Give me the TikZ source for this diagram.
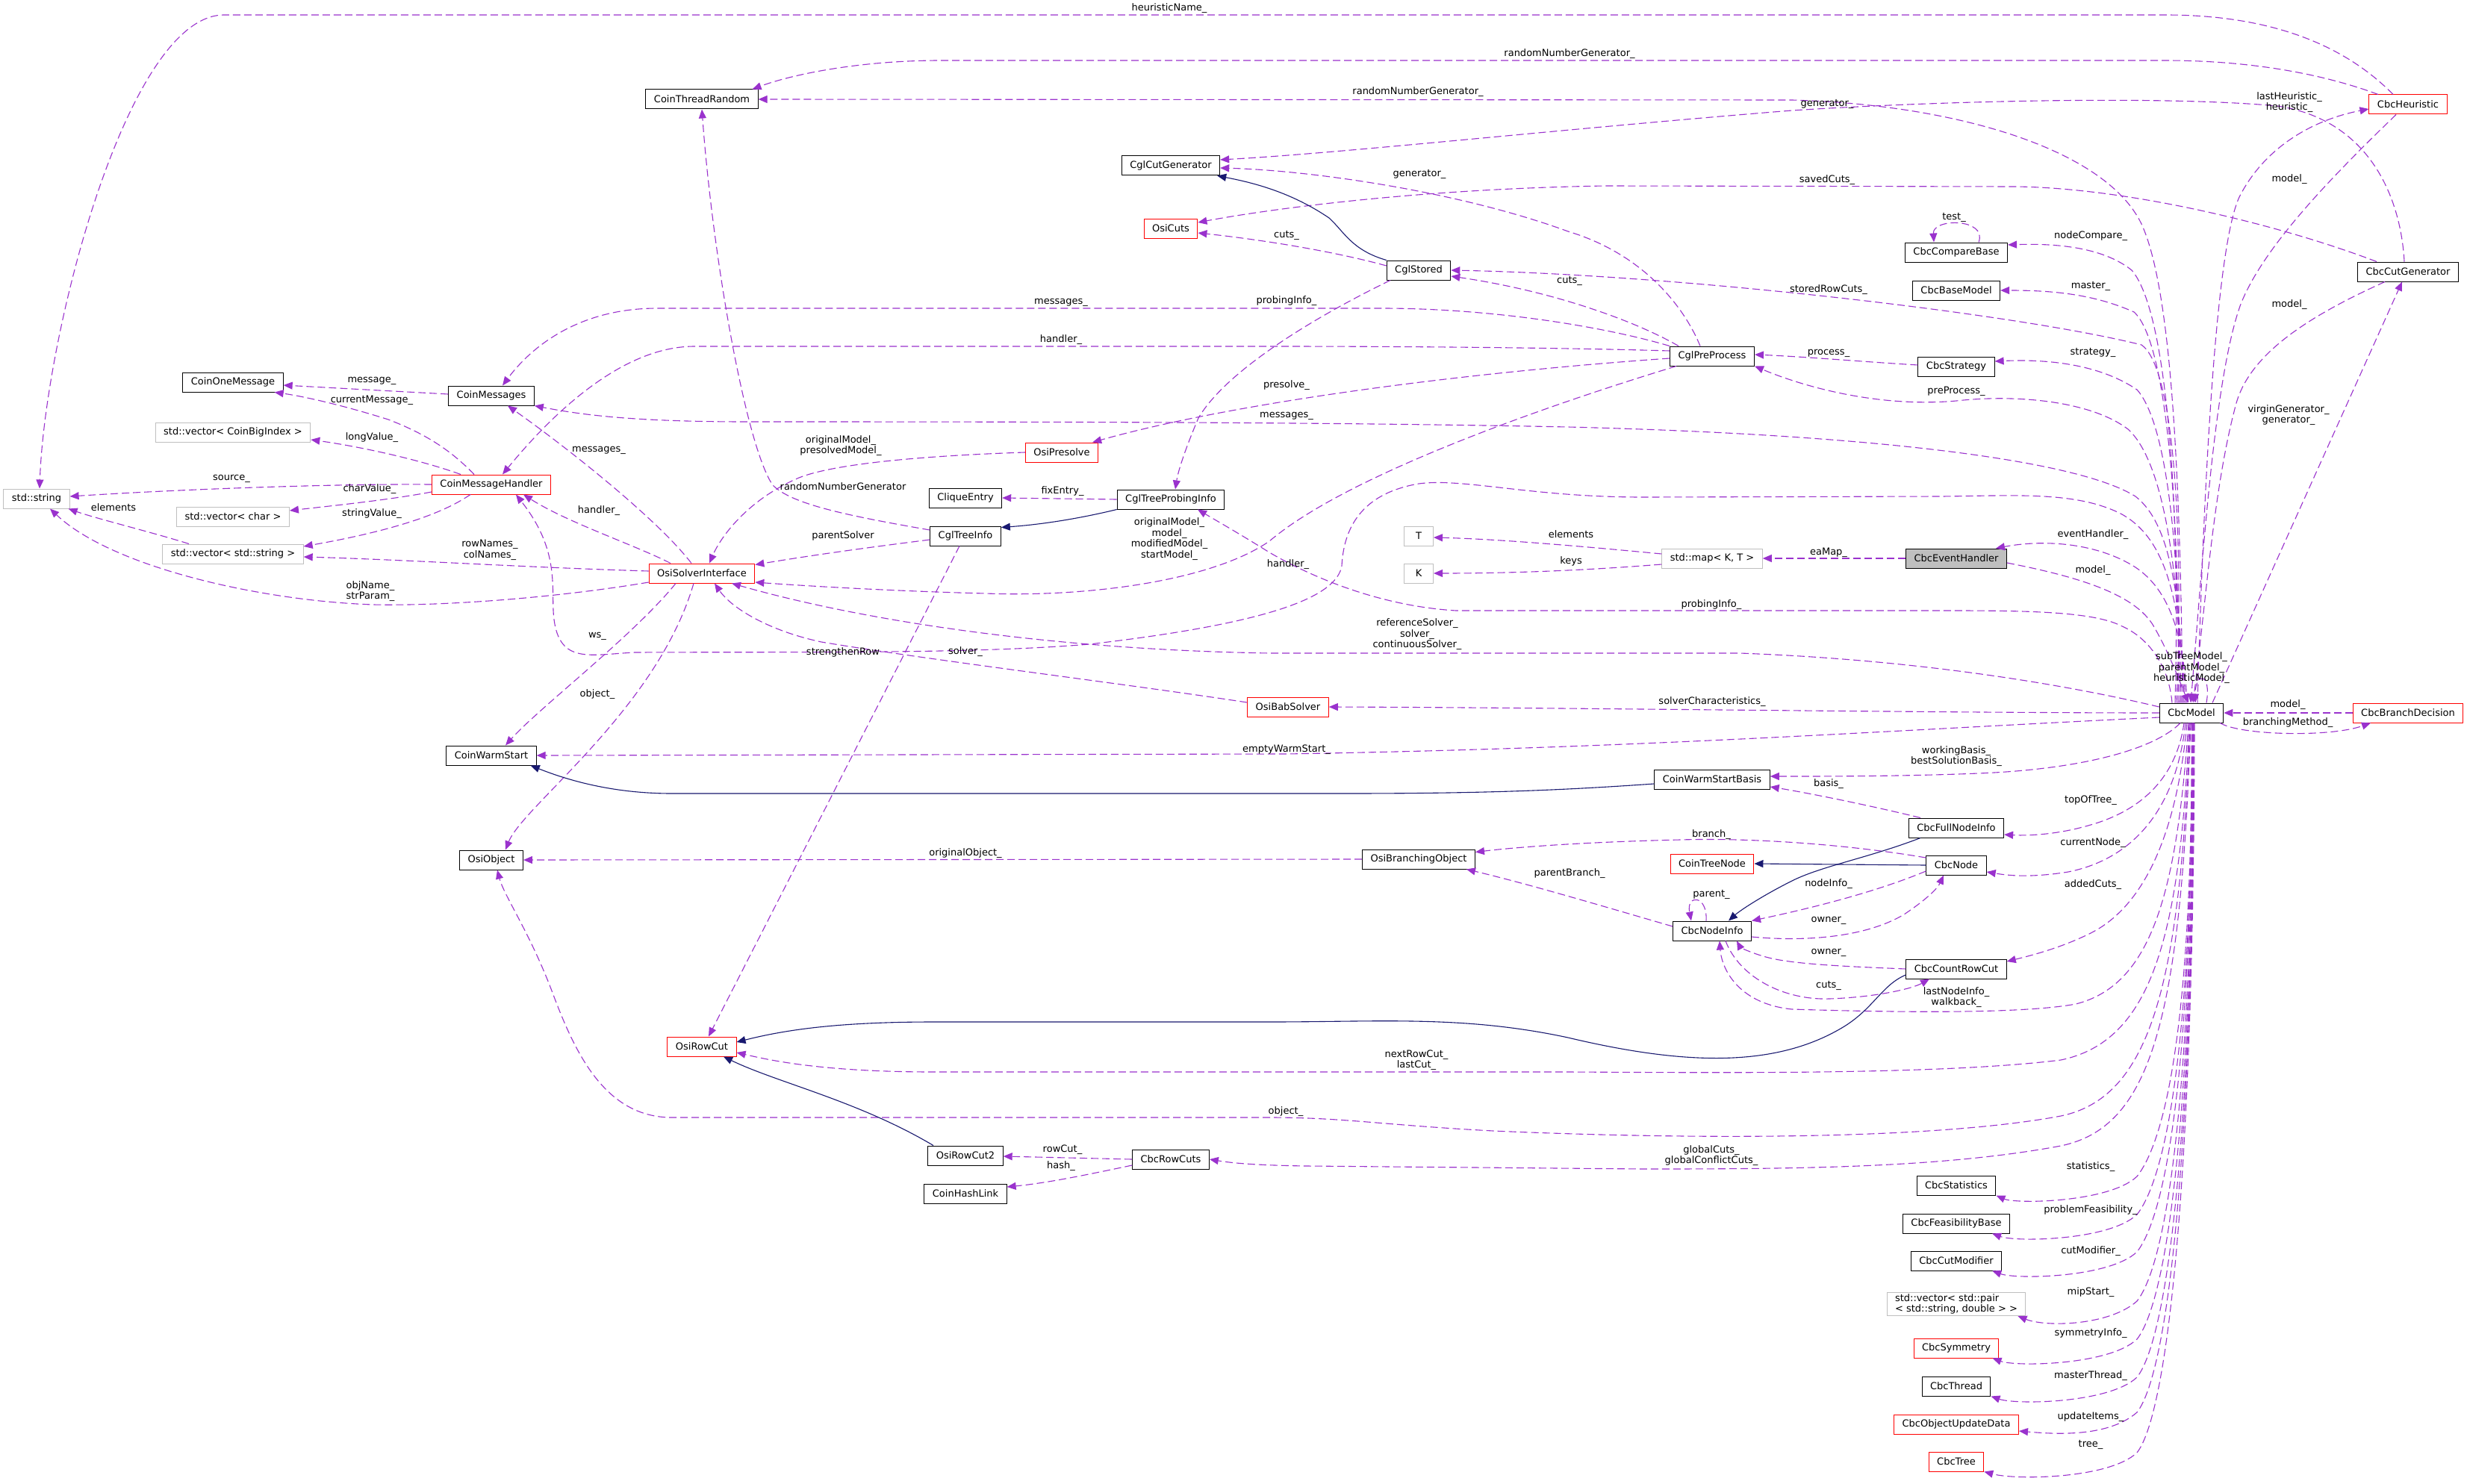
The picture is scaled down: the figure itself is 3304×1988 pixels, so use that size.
\documentclass[tikz,border=0pt]{standalone}
\usepackage{fontspec}
\setmainfont{DejaVu Sans}
\usetikzlibrary{arrows.meta}
\definecolor{edgec}{HTML}{9A32CD}
\definecolor{inhc}{HTML}{191970}
\definecolor{grayb}{HTML}{BFBFBF}
\definecolor{redb}{HTML}{FF0000}
\newcommand{\lblfont}{\fontsize{13}{14.5}\selectfont}
\begin{document}
\begin{tikzpicture}[x=1pt,y=-1pt,
 cbox/.style={draw=black,line width=1pt,fill=white,minimum height=26pt,minimum width=39pt,inner xsep=11pt,inner ysep=2pt,font=\lblfont,align=center},
 crbox/.style={cbox,draw=redb},
 cgbox/.style={cbox,draw=grayb},
 chbox/.style={cbox,fill=grayb},
 useedge/.style={draw=edgec,line width=1.1pt,dash pattern=on 10pt off 5pt,-{Triangle[length=12pt,width=10pt]}},
 inhedge/.style={draw=inhc,line width=1.1pt,-{Triangle[length=12pt,width=10pt]}},
 elab/.style={font=\lblfont,align=center,inner sep=0pt,text=black}]
\fill[white] (0,0) rectangle (3304,1988);
\path[use as bounding box] (0,0) rectangle (3304,1988);

% ---------------- nodes ----------------
\node[cgbox] (stdstring) at (49,668) {std::string};
\node[cgbox] (vecBig) at (312,579) {std::vector< CoinBigIndex >};
\node[cgbox] (vecChar) at (312,692) {std::vector< char >};
\node[cgbox] (vecStr) at (312,742) {std::vector< std::string >};
\node[cbox] (CoinOneMessage) at (312,512) {CoinOneMessage};
\node[cbox] (CoinMessages) at (658,530) {CoinMessages};
\node[crbox] (CoinMessageHandler) at (658,649) {CoinMessageHandler};
\node[cbox] (CoinWarmStart) at (658,1012) {CoinWarmStart};
\node[cbox] (OsiObject) at (658,1152) {OsiObject};
\node[cbox] (CoinThreadRandom) at (940,133) {CoinThreadRandom};
\node[crbox] (OsiSolverInterface) at (940,768) {OsiSolverInterface};
\node[crbox] (OsiRowCut) at (940,1402) {OsiRowCut};
\node[cbox] (CliqueEntry) at (1293,667) {CliqueEntry};
\node[cbox] (CglTreeInfo) at (1293,718) {CglTreeInfo};
\node[cbox] (OsiRowCut2) at (1293,1548) {OsiRowCut2};
\node[cbox] (CoinHashLink) at (1293,1599) {CoinHashLink};
\node[cbox] (CglCutGenerator) at (1568,222) {CglCutGenerator};
\node[crbox] (OsiCuts) at (1568,306) {OsiCuts};
\node[crbox] (OsiPresolve) at (1422,606) {OsiPresolve};
\node[cbox] (CglTreeProbingInfo) at (1568,669) {CglTreeProbingInfo};
\node[cbox] (CbcRowCuts) at (1568,1553) {CbcRowCuts};
\node[cbox] (CglStored) at (1900,362) {CglStored};
\node[cgbox] (T) at (1900,718) {T};
\node[cgbox] (K) at (1900,768) {K};
\node[crbox] (OsiBabSolver) at (1725,947) {OsiBabSolver};
\node[cbox] (OsiBranchingObject) at (1900,1151) {OsiBranchingObject};
\node[cbox] (CglPreProcess) at (2293,477) {CglPreProcess};
\node[cgbox] (stdmap) at (2293,748) {std::map< K, T >};
\node[cbox] (CoinWarmStartBasis) at (2293,1044) {CoinWarmStartBasis};
\node[crbox] (CoinTreeNode) at (2293,1157) {CoinTreeNode};
\node[cbox] (CbcNodeInfo) at (2293,1247) {CbcNodeInfo};
\node[cbox] (CbcCompareBase) at (2620,338) {CbcCompareBase};
\node[cbox] (CbcBaseModel) at (2620,389) {CbcBaseModel};
\node[cbox] (CbcStrategy) at (2620,491) {CbcStrategy};
\node[chbox] (CbcEventHandler) at (2620,748) {CbcEventHandler};
\node[cbox] (CbcFullNodeInfo) at (2620,1109) {CbcFullNodeInfo};
\node[cbox] (CbcNode) at (2620,1159) {CbcNode};
\node[cbox] (CbcCountRowCut) at (2620,1298) {CbcCountRowCut};
\node[cbox] (CbcStatistics) at (2620,1588) {CbcStatistics};
\node[cbox] (CbcFeasibilityBase) at (2620,1639) {CbcFeasibilityBase};
\node[cbox] (CbcCutModifier) at (2620,1689) {CbcCutModifier};
\node[cgbox,align=left] (vecPair) at (2620,1747) {std::vector< std::pair\\< std::string, double > >};
\node[crbox] (CbcSymmetry) at (2620,1806) {CbcSymmetry};
\node[cbox] (CbcThread) at (2620,1857) {CbcThread};
\node[crbox] (CbcObjectUpdateData) at (2620,1908) {CbcObjectUpdateData};
\node[crbox] (CbcTree) at (2620,1958) {CbcTree};
\node[cbox] (CbcModel) at (2935,955) {CbcModel};
\node[crbox] (CbcHeuristic) at (3225,140) {CbcHeuristic};
\node[cbox] (CbcCutGenerator) at (3225,364) {CbcCutGenerator};
\node[crbox] (CbcBranchDecision) at (3225,955) {CbcBranchDecision};

% ---------------- edges ----------------
\draw[useedge] ([xshift=-20pt]CbcHeuristic.north) .. controls (3120,40) and (3000,20) .. (2900,20) -- (300,20) .. controls (170,20) and (60,450) .. ([xshift=4pt]stdstring.north);
\draw[useedge] ([xshift=-40pt]CbcHeuristic.north) .. controls (3100,95) and (3000,81) .. (2900,81) -- (1260,81) .. controls (1150,81) and (1060,100) .. ([xshift=-8pt]CoinThreadRandom.north east);
\draw[useedge] ([xshift=-12pt]CbcModel.north) .. controls (2920,600) and (2905,380) .. (2868,300) .. controls (2820,200) and (2620,140) .. (2400,134) -- (CoinThreadRandom.east);
\draw[useedge] ([yshift=8pt]CglTreeInfo.west) .. controls (1130,690) and (1060,675) .. (1035,650) .. controls (1000,600) and (955,350) .. (CoinThreadRandom.south);
\draw[useedge] ([xshift=-5pt]CbcCutGenerator.north) .. controls (3215,260) and (3170,160) .. (3050,142) .. controls (2900,128) and (2600,135) .. (2400,148) .. controls (2100,172) and (1800,205) .. ([yshift=8pt]CglCutGenerator.east);
\draw[useedge] ([xshift=-16pt]CglPreProcess.north) .. controls (2255,410) and (2200,340) .. (2100,310) .. controls (1950,255) and (1750,228) .. ([yshift=-3pt]CglCutGenerator.east);
\draw[useedge] ([xshift=-42pt]CbcCutGenerator.north) .. controls (3050,300) and (2850,252) .. (2700,250) -- (2150,249) .. controls (1900,253) and (1700,280) .. ([yshift=8pt]OsiCuts.east);
\draw[useedge] ([yshift=6pt]CglStored.west) .. controls (1780,335) and (1680,320) .. ([yshift=-6pt]OsiCuts.east);
\draw[inhedge] (CglStored.north west) .. controls (1810,335) and (1800,310) .. (1780,292) .. controls (1730,258) and (1680,245) .. ([xshift=-4pt]CglCutGenerator.south east);
\draw[useedge] ([xshift=-45pt]CglPreProcess.north) .. controls (2190,430) and (2080,390) .. ([yshift=-8pt]CglStored.east);
\draw[useedge] ([xshift=-20pt]CbcModel.north) .. controls (2925,700) and (2910,490) .. (2868,462) .. controls (2700,420) and (2250,368) .. (CglStored.east);
\draw[useedge] ([xshift=-22pt]CbcModel.north) .. controls (2920,700) and (2905,420) .. (2855,362) .. controls (2815,330) and (2750,326) .. ([yshift=10pt]CbcCompareBase.east);
\draw[useedge] ([xshift=30pt]CbcCompareBase.north) .. controls (2662,292) and (2588,292) .. ([xshift=-30pt]CbcCompareBase.north);
\draw[useedge] ([xshift=-18pt]CbcModel.north) .. controls (2920,720) and (2905,460) .. (2858,418) .. controls (2800,392) and (2740,389) .. (CbcBaseModel.east);
\draw[useedge] ([xshift=-16pt]CbcModel.north) .. controls (2920,760) and (2905,570) .. (2862,522) .. controls (2810,487) and (2740,481) .. ([yshift=7pt]CbcStrategy.east);
\draw[useedge] ([xshift=-14pt]CbcModel.north) .. controls (2920,780) and (2900,620) .. (2850,575) .. controls (2800,537) and (2700,528) .. (2620,537) .. controls (2520,546) and (2420,520) .. (CglPreProcess.south east);
\draw[useedge] ([yshift=2pt]CbcStrategy.west) .. controls (2500,485) and (2420,478) .. ([yshift=2pt]CglPreProcess.east);
\draw[useedge] (CglPreProcess.north west) .. controls (2150,438) and (2000,413) .. (1850,413) -- (880,413) .. controls (780,413) and (715,460) .. ([xshift=15pt]CoinMessages.north);
\draw[useedge] ([yshift=7pt]CglPreProcess.west) .. controls (2100,466) and (1900,464) .. (1700,464) -- (930,464) .. controls (830,464) and (735,560) .. ([xshift=15pt]CoinMessageHandler.north);
\draw[useedge] ([yshift=-3pt]CglPreProcess.west) .. controls (1950,500) and (1650,540) .. ([xshift=-8pt]OsiPresolve.north east);
\draw[useedge] ([xshift=-48pt]CglPreProcess.south) .. controls (2050,550) and (1800,640) .. (1700,725) .. controls (1620,780) and (1450,800) .. (1320,795) .. controls (1200,792) and (1080,785) .. ([yshift=-12pt]OsiSolverInterface.east);
\draw[useedge] ([xshift=-38pt]CglStored.south) .. controls (1750,430) and (1640,500) .. (1605,560) .. controls (1588,600) and (1578,630) .. ([xshift=6pt]CglTreeProbingInfo.north);
\draw[useedge] ([xshift=-26pt]CbcModel.north) .. controls (2905,895) and (2880,855) .. (2840,838) .. controls (2800,818) and (2700,818) .. (2600,818) -- (1950,818) .. controls (1850,812) and (1760,775) .. (1700,740) .. controls (1660,715) and (1630,698) .. ([xshift=36pt]CglTreeProbingInfo.south);
\draw[useedge] ([yshift=8pt]CbcModel.west) .. controls (2800,925) and (2600,885) .. (2330,875) -- (1700,875) .. controls (1400,870) and (1150,830) .. ([xshift=40pt]OsiSolverInterface.south);
\draw[useedge] ([xshift=-8pt]CbcModel.north) .. controls (2920,800) and (2900,720) .. (2840,688) .. controls (2780,658) and (2700,664) .. (2600,665) -- (2200,666) .. controls (2050,666) and (1960,640) .. (1900,648) .. controls (1830,660) and (1800,700) .. (1797,758) .. controls (1790,800) and (1700,835) .. (1459,863) .. controls (1300,876) and (1100,873) .. (850,874) .. controls (790,877) and (750,890) .. (742,830) .. controls (737,790) and (752,740) .. ([xshift=33pt]CoinMessageHandler.south);
\draw[useedge] ([xshift=-10pt]CbcModel.north) .. controls (2920,790) and (2905,700) .. (2860,665) .. controls (2780,615) and (2500,582) .. (2100,572) .. controls (1800,566) and (1500,565) .. (1000,565) .. controls (850,565) and (780,556) .. (CoinMessages.south east);
\draw[useedge] ([yshift=2pt]CoinMessages.west) -- ([yshift=-4pt]CoinOneMessage.east);
\draw[useedge] ([xshift=-23pt]CoinMessageHandler.north) .. controls (610,610) and (580,585) .. (520,562) .. controls (450,540) and (400,530) .. ([xshift=-12pt]CoinOneMessage.south east);
\draw[useedge] ([xshift=-41pt]CoinMessageHandler.north) .. controls (560,615) and (480,598) .. ([yshift=-10pt]vecBig.east);
\draw[useedge] (CoinMessageHandler.west) .. controls (450,648) and (250,655) .. ([yshift=3pt]stdstring.east);
\draw[useedge] ([yshift=-10pt]CoinMessageHandler.west) .. controls (520,670) and (440,678) .. ([yshift=8pt]vecChar.east);
\draw[useedge] ([xshift=-28pt]CoinMessageHandler.south) .. controls (590,690) and (520,712) .. ([yshift=10pt]vecStr.east);
\draw[useedge] ([xshift=-59pt]vecStr.north) .. controls (200,712) and (130,695) .. ([xshift=-2pt]stdstring.south east);
\draw[useedge] ([xshift=-14pt]OsiSolverInterface.north) .. controls (880,695) and (760,600) .. ([xshift=22pt]CoinMessages.south);
\draw[useedge] ([xshift=-42pt]OsiSolverInterface.north) .. controls (850,730) and (760,700) .. ([xshift=43pt]CoinMessageHandler.south);
\draw[useedge] ([yshift=3pt]OsiSolverInterface.west) .. controls (700,760) and (550,750) .. ([yshift=-4pt]vecStr.east);
\draw[useedge] ([yshift=-12pt]OsiSolverInterface.west) .. controls (750,800) and (600,812) .. (500,810) .. controls (350,805) and (150,760) .. ([xshift=18pt]stdstring.south);
\draw[useedge] ([xshift=-35pt]OsiSolverInterface.south) .. controls (850,850) and (720,950) .. ([xshift=19pt]CoinWarmStart.north);
\draw[useedge] ([xshift=-11pt]OsiSolverInterface.south) .. controls (880,950) and (700,1080) .. ([xshift=19pt]OsiObject.north);
\draw[useedge] (OsiPresolve.west) .. controls (1250,610) and (1120,620) .. (1070,640) .. controls (1000,670) and (965,720) .. ([xshift=10pt]OsiSolverInterface.north);
\draw[useedge] ([yshift=-5pt]CglTreeInfo.west) .. controls (1150,735) and (1080,745) .. ([yshift=-2pt]OsiSolverInterface.north east);
\draw[useedge] (CglTreeProbingInfo.west) -- (CliqueEntry.east);
\draw[inhedge] (CglTreeProbingInfo.south west) .. controls (1440,696) and (1390,703) .. ([yshift=-2pt]CglTreeInfo.north east);
\draw[useedge] ([xshift=-8pt]CglTreeInfo.south) -- ([xshift=9pt]OsiRowCut.north);
\draw[useedge] ([yshift=6pt]OsiBabSolver.west) .. controls (1500,915) and (1250,885) .. (1100,860) .. controls (1030,845) and (980,815) .. ([xshift=17pt]OsiSolverInterface.south);
\draw[useedge] (CbcModel.west) .. controls (2600,955) and (2100,948) .. (OsiBabSolver.east);
\draw[useedge] ([yshift=-6pt]CbcModel.west) .. controls (2500,980) and (2200,1002) .. (1723,1010) -- (CoinWarmStart.east);
\draw[inhedge] ([yshift=-6pt]CoinWarmStartBasis.west) .. controls (2100,1058) and (2000,1063) .. (1800,1063) -- (900,1063) .. controls (820,1063) and (760,1045) .. ([xshift=-8pt]CoinWarmStart.south east);
\draw[useedge] (OsiBranchingObject.west) -- (OsiObject.east);
\draw[useedge] ([yshift=6pt]CbcNodeInfo.west) .. controls (2150,1215) and (2050,1185) .. ([xshift=-12pt]OsiBranchingObject.south east);
\draw[useedge] ([yshift=10pt]CbcNode.west) .. controls (2480,1132) and (2350,1122) .. (2250,1125) .. controls (2120,1128) and (2030,1135) .. ([yshift=-4pt]OsiBranchingObject.north east);
\draw[useedge] ([yshift=6pt]stdmap.west) .. controls (2100,730) and (2000,722) .. ([yshift=-2pt]T.east);
\draw[useedge] ([yshift=-8pt]stdmap.west) .. controls (2100,766) and (2000,768) .. (K.east);
\draw[useedge] (CbcEventHandler.west) -- (stdmap.east);
\draw[useedge] ([xshift=-6pt]CbcModel.north) .. controls (2925,850) and (2905,790) .. (2860,760) .. controls (2810,728) and (2740,722) .. ([xshift=-15pt]CbcEventHandler.north east);
\draw[useedge] ([yshift=-6pt]CbcEventHandler.east) .. controls (2780,772) and (2860,795) .. (2885,840) .. controls (2905,875) and (2918,910) .. ([xshift=-4pt]CbcModel.north);
\draw[useedge] ([xshift=20pt]CbcModel.north) .. controls (2962,900) and (2940,900) .. ([xshift=5pt]CbcModel.north);
\draw[useedge] (CbcBranchDecision.west) -- (CbcModel.east);
\draw[useedge] ([xshift=-5pt]CbcModel.south east) .. controls (3000,985) and (3120,988) .. ([xshift=-50pt]CbcBranchDecision.south);
\draw[useedge] ([xshift=8pt]CbcModel.north) .. controls (2950,700) and (2965,330) .. (3000,262) .. controls (3035,195) and (3100,160) .. ([yshift=-6pt]CbcHeuristic.west);
\draw[useedge] ([xshift=-16pt]CbcHeuristic.south) .. controls (3130,230) and (3030,330) .. (3000,410) .. controls (2965,510) and (2950,750) .. ([xshift=-1pt]CbcModel.north);
\draw[useedge] ([xshift=-31pt]CbcCutGenerator.south) .. controls (3100,420) and (3015,470) .. (2995,540) .. controls (2965,650) and (2955,800) .. ([xshift=2pt]CbcModel.north);
\draw[useedge] ([xshift=28pt]CbcModel.north) -- ([xshift=-8pt]CbcCutGenerator.south);
\draw[useedge] ([xshift=-15pt]CbcModel.south) .. controls (2890,1000) and (2800,1030) .. (2650,1036) .. controls (2550,1040) and (2450,1040) .. ([yshift=4pt]CoinWarmStartBasis.east);
\draw[useedge] ([xshift=-48pt]CbcFullNodeInfo.north) .. controls (2500,1078) and (2420,1062) .. ([yshift=-10pt]CoinWarmStartBasis.east);
\draw[useedge] ([xshift=-10pt]CbcModel.south) .. controls (2915,1040) and (2870,1085) .. (2800,1105) .. controls (2760,1117) and (2720,1120) .. ([yshift=-9pt]CbcFullNodeInfo.east);
\draw[inhedge] ([xshift=-48pt]CbcFullNodeInfo.south) .. controls (2500,1150) and (2440,1160) .. (2400,1180) .. controls (2360,1200) and (2330,1220) .. ([xshift=22pt]CbcNodeInfo.north);
\draw[inhedge] (CbcNode.west) -- (CoinTreeNode.east);
\draw[useedge] ([xshift=-8pt]CbcModel.south) .. controls (2915,1080) and (2860,1150) .. (2770,1168) .. controls (2720,1176) and (2690,1173) .. ([yshift=-9pt]CbcNode.east);
\draw[useedge] ([yshift=-8pt]CbcNode.west) .. controls (2500,1200) and (2400,1222) .. (CbcNodeInfo.north east);
\draw[useedge] ([xshift=-8pt]CbcNodeInfo.north) .. controls (2287,1198) and (2258,1198) .. ([xshift=-28pt]CbcNodeInfo.north);
\draw[useedge] ([yshift=-8pt]CbcNodeInfo.east) .. controls (2420,1262) and (2500,1255) .. (2550,1225) .. controls (2580,1205) and (2595,1190) .. ([xshift=-17pt]CbcNode.south);
\draw[useedge] ([xshift=-6pt]CbcModel.south) .. controls (2915,1120) and (2870,1215) .. (2800,1250) .. controls (2760,1270) and (2720,1280) .. ([yshift=10pt]CbcCountRowCut.east);
\draw[useedge] (CbcCountRowCut.west) .. controls (2480,1295) and (2400,1292) .. (2365,1282) .. controls (2340,1275) and (2330,1268) .. ([xshift=33pt]CbcNodeInfo.south);
\draw[useedge] ([xshift=18pt]CbcNodeInfo.south) .. controls (2330,1310) and (2390,1340) .. (2450,1338) .. controls (2510,1336) and (2560,1325) .. ([xshift=-36pt]CbcCountRowCut.south);
\draw[useedge] ([xshift=-4pt]CbcModel.south) .. controls (2915,1200) and (2880,1320) .. (2780,1345) .. controls (2700,1360) and (2500,1355) .. (2400,1352) .. controls (2330,1345) and (2306,1300) .. ([xshift=10pt]CbcNodeInfo.south);
\draw[inhedge] ([yshift=-8pt]CbcCountRowCut.west) .. controls (2520,1320) and (2510,1350) .. (2470,1375) .. controls (2380,1430) and (2260,1428) .. (2100,1390) .. controls (1960,1360) and (1850,1369) .. (1700,1369) -- (1250,1369) .. controls (1120,1369) and (1050,1380) .. ([yshift=6pt]OsiRowCut.east);
\draw[useedge] ([xshift=-3pt]CbcModel.south) .. controls (2920,1260) and (2880,1395) .. (2760,1420) .. controls (2600,1440) and (2300,1437) .. (2100,1436) -- (1250,1436) .. controls (1100,1436) and (1030,1420) .. ([yshift=-8pt]OsiRowCut.east);
\draw[useedge] ([xshift=-2pt]CbcModel.south) .. controls (2920,1320) and (2880,1470) .. (2760,1495) .. controls (2600,1525) and (2300,1528) .. (2000,1515) .. controls (1850,1507) and (1800,1497) .. (1700,1497) -- (900,1497) .. controls (810,1497) and (770,1410) .. (740,1330) .. controls (710,1250) and (675,1200) .. ([xshift=8pt]OsiObject.south);
\draw[inhedge] ([xshift=-43pt]OsiRowCut2.north) .. controls (1150,1475) and (1040,1450) .. ([xshift=29pt]OsiRowCut.south);
\draw[useedge] (CbcRowCuts.west) -- ([yshift=-1pt]OsiRowCut2.east);
\draw[useedge] ([yshift=-8pt]CbcRowCuts.west) .. controls (1450,1575) and (1400,1585) .. ([yshift=9pt]CoinHashLink.east);
\draw[useedge] ([xshift=-1pt]CbcModel.south) .. controls (2920,1370) and (2880,1510) .. (2760,1535) .. controls (2600,1565) and (2400,1566) .. (2200,1566) -- (1750,1562) .. controls (1680,1561) and (1650,1558) .. (CbcRowCuts.east);
\draw[useedge] ([xshift=0pt]CbcModel.south) .. controls (2937,1340) and (2905,1521) .. (2862,1576) .. controls (2825,1611) and (2700,1613) .. (CbcStatistics.south east);
\draw[useedge] ([xshift=1pt]CbcModel.south) .. controls (2937,1370) and (2905,1572) .. (2862,1627) .. controls (2825,1662) and (2700,1664) .. ([xshift=-24pt]CbcFeasibilityBase.south east);
\draw[useedge] ([xshift=1pt]CbcModel.south) .. controls (2937,1400) and (2905,1622) .. (2862,1677) .. controls (2825,1712) and (2700,1714) .. ([xshift=-13pt]CbcCutModifier.south east);
\draw[useedge] ([xshift=2pt]CbcModel.south) .. controls (2937,1440) and (2905,1688) .. (2862,1743) .. controls (2825,1776) and (2740,1778) .. ([xshift=-11pt]vecPair.south east);
\draw[useedge] ([xshift=2pt]CbcModel.south) .. controls (2938,1470) and (2905,1739) .. (2862,1794) .. controls (2825,1829) and (2700,1831) .. ([xshift=-9pt]CbcSymmetry.south east);
\draw[useedge] ([xshift=3pt]CbcModel.south) .. controls (2938,1500) and (2905,1790) .. (2862,1845) .. controls (2825,1880) and (2700,1882) .. (CbcThread.south east);
\draw[useedge] ([xshift=3pt]CbcModel.south) .. controls (2938,1530) and (2905,1837) .. (2862,1892) .. controls (2825,1924) and (2760,1922) .. ([yshift=-9pt]CbcObjectUpdateData.east);
\draw[useedge] ([xshift=4pt]CbcModel.south) .. controls (2938,1560) and (2905,1891) .. (2862,1946) .. controls (2825,1981) and (2700,1983) .. (CbcTree.south east);

% ---------------- labels ----------------
\node[elab] (l01) at (1566,11) {heuristicName\_};
\node[elab] (l02) at (2102,72) {randomNumberGenerator\_};
\node[elab] (l03) at (1899,123) {randomNumberGenerator\_};
\node[elab] (l04) at (2447,139) {generator\_};
\node[elab] (l05) at (3066,137) {lastHeuristic\_\\heuristic\_};
\node[elab] (l06) at (1901,233) {generator\_};
\node[elab] (l07) at (2447,241) {savedCuts\_};
\node[elab] (l08) at (3066,240) {model\_};
\node[elab] (l09) at (2617,291) {test\_};
\node[elab] (l10) at (1723,315) {cuts\_};
\node[elab] (l11) at (2800,316) {nodeCompare\_};
\node[elab] (l12) at (2102,376) {cuts\_};
\node[elab] (l13) at (2800,383) {master\_};
\node[elab] (l14) at (2449,388) {storedRowCuts\_};
\node[elab] (l15) at (1421,405) {messages\_};
\node[elab] (l16) at (1723,403) {probingInfo\_};
\node[elab] (l17) at (3066,408) {model\_};
\node[elab] (l18) at (1421,455) {handler\_};
\node[elab] (l19) at (2449,473) {process\_};
\node[elab] (l20) at (2803,472) {strategy\_};
\node[elab] (l21) at (498,510) {message\_};
\node[elab] (l22) at (1723,516) {presolve\_};
\node[elab] (l23) at (2620,524) {preProcess\_};
\node[elab] (l24) at (498,536) {currentMessage\_};
\node[elab] (l25) at (3065,556) {virginGenerator\_\\generator\_};
\node[elab] (l26) at (1723,557) {messages\_};
\node[elab] (l27) at (498,586) {longValue\_};
\node[elab] (l28) at (1126,597) {originalModel\_\\presolvedModel\_};
\node[elab] (l29) at (802,603) {messages\_};
\node[elab] (l30) at (310,641) {source\_};
\node[elab] (l31) at (1129,652) {randomNumberGenerator};
\node[elab] (l32) at (495,655) {charValue\_};
\node[elab] (l33) at (1423,658) {fixEntry\_};
\node[elab] (l34) at (152,680) {elements};
\node[elab] (l35) at (802,684) {handler\_};
\node[elab] (l36) at (498,688) {stringValue\_};
\node[elab] (l37) at (2803,716) {eventHandler\_};
\node[elab] (l38) at (2104,716) {elements};
\node[elab] (l39) at (1129,718) {parentSolver};
\node[elab] (l40) at (1566,722) {originalModel\_\\model\_\\modifiedModel\_\\startModel\_};
\node[elab] (l41) at (656,737) {rowNames\_\\colNames\_};
\node[elab] (l42) at (2449,740) {eaMap\_};
\node[elab] (l43) at (2104,752) {keys};
\node[elab] (l44) at (1725,756) {handler\_};
\node[elab] (l45) at (2803,764) {model\_};
\node[elab] (l46) at (496,792) {objName\_\\strParam\_};
\node[elab] (l47) at (2292,810) {probingInfo\_};
\node[elab] (l48) at (1898,850) {referenceSolver\_\\solver\_\\continuousSolver\_};
\node[elab] (l49) at (800,852) {ws\_};
\node[elab] (l50) at (1129,874) {strengthenRow};
\node[elab] (l51) at (1293,873) {solver\_};
\node[elab] (l52) at (2935,895) {subTreeModel\_\\parentModel\_\\heuristicModel\_};
\node[elab] (l53) at (800,930) {object\_};
\node[elab] (l54) at (2293,940) {solverCharacteristics\_};
\node[elab] (l55) at (3064,944) {model\_};
\node[elab] (l56) at (3064,968) {branchingMethod\_};
\node[elab] (l57) at (1723,1004) {emptyWarmStart\_};
\node[elab] (l58) at (2620,1013) {workingBasis\_\\bestSolutionBasis\_};
\node[elab] (l59) at (2449,1050) {basis\_};
\node[elab] (l60) at (2800,1072) {topOfTree\_};
\node[elab] (l61) at (2292,1118) {branch\_};
\node[elab] (l62) at (2803,1129) {currentNode\_};
\node[elab] (l63) at (1293,1143) {originalObject\_};
\node[elab] (l64) at (2102,1170) {parentBranch\_};
\node[elab] (l65) at (2449,1184) {nodeInfo\_};
\node[elab] (l66) at (2803,1185) {addedCuts\_};
\node[elab] (l67) at (2292,1198) {parent\_};
\node[elab] (l68) at (2449,1233) {owner\_};
\node[elab] (l69) at (2449,1276) {owner\_};
\node[elab] (l70) at (2449,1320) {cuts\_};
\node[elab] (l71) at (2620,1336) {lastNodeInfo\_\\walkback\_};
\node[elab] (l72) at (1897,1420) {nextRowCut\_\\lastCut\_};
\node[elab] (l73) at (1722,1489) {object\_};
\node[elab] (l74) at (1423,1540) {rowCut\_};
\node[elab] (l75) at (2292,1548) {globalCuts\_\\globalConflictCuts\_};
\node[elab] (l76) at (1421,1562) {hash\_};
\node[elab] (l77) at (2800,1563) {statistics\_};
\node[elab] (l78) at (2800,1621) {problemFeasibility\_};
\node[elab] (l79) at (2800,1676) {cutModifier\_};
\node[elab] (l80) at (2800,1731) {mipStart\_};
\node[elab] (l81) at (2800,1786) {symmetryInfo\_};
\node[elab] (l82) at (2800,1843) {masterThread\_};
\node[elab] (l83) at (2800,1898) {updateItems\_};
\node[elab] (l84) at (2800,1935) {tree\_};
\end{tikzpicture}
\end{document}
